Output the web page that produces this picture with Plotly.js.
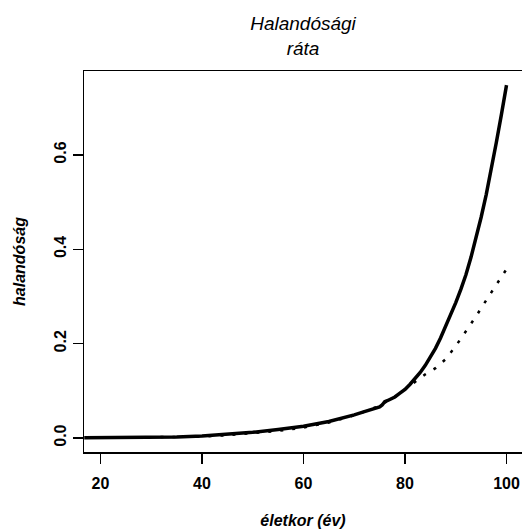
<!DOCTYPE html>
<html>
<head>
<meta charset="utf-8">
<script src="https://cdn.plot.ly/plotly-3.0.1.min.js"></script>
<style>html,body{margin:0;padding:0;background:#fff;}#chart{width:522px;height:529px;}</style>
</head>
<body>
<div id="chart"></div>
<script>
// Solid curve
var agesSolid = [16.8, 20, 25, 30, 35, 40, 45, 50, 55, 60, 65, 68, 70, 72, 74, 75, 75.5, 76, 76.5, 77, 78, 79, 80, 81, 82, 83, 84, 85, 86, 87, 88, 89, 90, 91, 92, 93, 94, 95, 96, 97, 98, 99, 100];
var mortSolid = [0.0005, 0.0006, 0.001, 0.0015, 0.002, 0.004, 0.008, 0.012, 0.018, 0.025, 0.035, 0.043, 0.049, 0.056, 0.062, 0.066, 0.070, 0.077, 0.079, 0.081, 0.087, 0.095, 0.103, 0.114, 0.126, 0.139, 0.154, 0.171, 0.190, 0.212, 0.236, 0.261, 0.287, 0.315, 0.346, 0.383, 0.424, 0.468, 0.516, 0.568, 0.627, 0.686, 0.748];
// Dotted curve
var agesDotted = [20, 25, 30, 35, 40, 45, 50, 55, 60, 65, 70, 75, 76, 78, 80, 82, 83, 84, 86, 88, 90, 92, 94, 96, 98, 100];
var mortDotted = [0.0005, 0.0008, 0.0012, 0.0018, 0.003, 0.006, 0.010, 0.015, 0.022, 0.033, 0.048, 0.068, 0.075, 0.087, 0.103, 0.120, 0.128, 0.135, 0.148, 0.167, 0.195, 0.226, 0.258, 0.292, 0.325, 0.358];
// Ticks
var xTicks = [20, 40, 60, 80, 100];
var xTickText = ['20', '40', '60', '80', '100'];
var yTicks = [0, 0.2, 0.4, 0.6];
var yTickText = ['0.0', '0.2', '0.4', '0.6'];

var FONT = 'Liberation Sans, Arial, Helvetica, sans-serif';

var traces = [
  {x: agesDotted, y: mortDotted, mode: 'lines', type: 'scatter',
   line: {color: '#000', width: 2.5, dash: '3px,9px'}, hoverinfo: 'skip', showlegend: false},
  {x: agesSolid, y: mortSolid, mode: 'lines', type: 'scatter',
   line: {color: '#000', width: 3.5}, hoverinfo: 'skip', showlegend: false}
];

var layout = {
  width: 522, height: 529,
  margin: {l: 84, r: 0, t: 71, b: 77, pad: 0},
  paper_bgcolor: '#fff', plot_bgcolor: '#fff',
  showlegend: false,
  font: {family: FONT, color: '#000'},
  title: {text: 'Halandósági<br>ráta', x: 0.5, xref: 'paper', xanchor: 'center',
          y: 1 - 30/529, yref: 'container', yanchor: 'top',
          font: {family: FONT, size: 19, style: 'italic', color: '#000', lineheight: 1.2}},
  xaxis: {
    range: [16.75, 103.05], tickmode: 'array', tickvals: xTicks, ticktext: xTickText,
    ticks: 'outside', ticklen: 10, tickwidth: 1.5, tickcolor: '#000',
    ticklabelstandoff: 6,
    showline: true, mirror: true, linecolor: '#000', linewidth: 1.5,
    showgrid: false, zeroline: false, automargin: false,
    tickfont: {family: FONT, size: 16, weight: 'bold', color: '#000'},
    title: {text: 'életkor (év)', standoff: 24,
            font: {family: FONT, size: 16, weight: 'bold', style: 'italic', color: '#000'}}
  },
  yaxis: {
    range: [-0.0297, 0.778], tickmode: 'array', tickvals: yTicks, ticktext: yTickText,
    tickangle: -90,
    ticks: 'outside', ticklen: 10, tickwidth: 1.5, tickcolor: '#000',
    showline: true, mirror: true, linecolor: '#000', linewidth: 1.5,
    showgrid: false, zeroline: false, automargin: false,
    tickfont: {family: FONT, size: 16, weight: 'bold', color: '#000'},
    title: {text: 'halandóság', standoff: 22,
            font: {family: FONT, size: 16, weight: 'bold', style: 'italic', color: '#000'}}
  }
};

Plotly.newPlot('chart', traces, layout, {staticPlot: true, displayModeBar: false});
</script>
</body>
</html>
